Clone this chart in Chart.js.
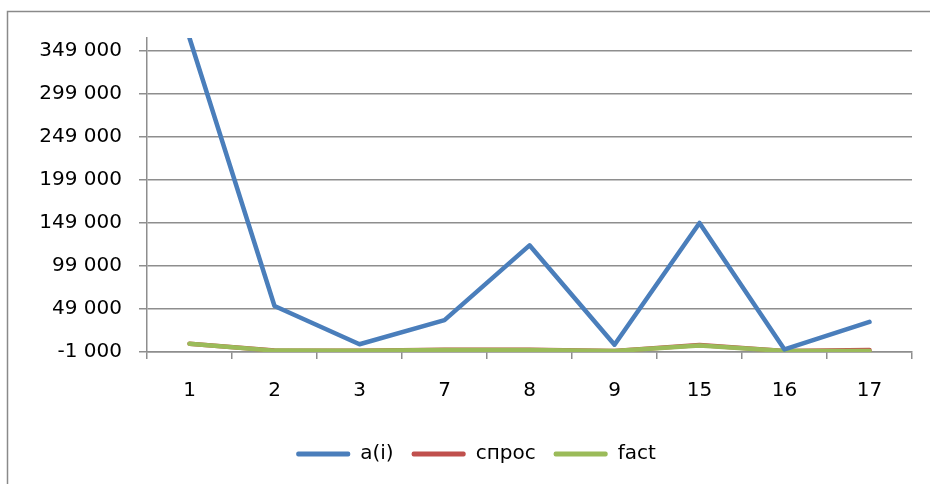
<!DOCTYPE html>
<html>
<head>
<meta charset="utf-8">
<script src="https://cdn.jsdelivr.net/npm/chart.js@4.4.1/dist/chart.umd.min.js"></script>
<style>
html,body{margin:0;padding:0;background:#fff;}
#wrap{width:930px;height:484px;position:relative;}
</style>
</head>
<body>
<div id="wrap"><canvas id="c" width="930" height="484"></canvas></div>
<script>
const categories = ['1','2','3','7','8','9','15','16','17'];
const seriesA = [364000, 52500, 8000, 36000, 123000, 7500, 149000, 2000, 34000];
const seriesSpros = [8700, 800, 500, 1500, 1500, 300, 7200, 300, 1200];
const seriesFact = [8700, 600, 400, 1200, 1200, 200, 6500, 200, 300];
const yTickValues = [-1000, 49000, 99000, 149000, 199000, 249000, 299000, 349000];
const yMin = -1000, yMax = 364000;

function fmt(v){
  const neg = v < 0; let s = Math.abs(Math.round(v)).toString();
  s = s.replace(/\B(?=(\d{3})+(?!\d))/g, ' ');
  return (neg ? '-' : '') + s;
}

const borderPlugin = {
  id: 'outerBorder',
  beforeDraw(chart){
    const ctx = chart.ctx;
    ctx.save();
    ctx.strokeStyle = '#8a8a8a';
    ctx.lineWidth = 1.5;
    ctx.strokeRect(7.5, 11.5, 1000, 1000);
    ctx.restore();
  },
  afterLayout(chart){
    if (chart.legend) { chart.legend.left += 40; }
  }
};

const FONT = {family: '"DejaVu Sans", sans-serif', size: 20};

new Chart(document.getElementById('c'), {
  type: 'line',
  data: {
    labels: categories,
    datasets: [
      {label: 'a(i)', data: seriesA, borderColor: '#4A7EBB', backgroundColor: '#4A7EBB', order: 0},
      {label: 'спрос', data: seriesSpros, borderColor: '#C0504D', backgroundColor: '#C0504D', order: 2},
      {label: 'fact', data: seriesFact, borderColor: '#9BBB59', backgroundColor: '#9BBB59', order: 1}
    ]
  },
  options: {
    responsive: false,
    animation: false,
    devicePixelRatio: 1,
    layout: {padding: {left: 0, right: 18, top: 38, bottom: 10}},
    elements: {
      line: {borderWidth: 4.5, tension: 0, borderCapStyle: 'round', borderJoinStyle: 'round'},
      point: {radius: 0, hoverRadius: 0}
    },
    plugins: {
      tooltip: {enabled: false},
      legend: {
        position: 'bottom',
        labels: {
          font: FONT,
          color: '#000',
          boxWidth: 54,
          boxHeight: 5,
          padding: 18,
          useBorderRadius: true,
          borderRadius: 2,
          sort: (a, b) => a.datasetIndex - b.datasetIndex,
          generateLabels(chart){
            return Chart.defaults.plugins.legend.labels.generateLabels(chart).map(l => Object.assign(l, {lineWidth: 0, fillStyle: l.strokeStyle}));
          }
        }
      }
    },
    scales: {
      x: {
        offset: true,
        grid: {offset: true, drawOnChartArea: false, color: '#8e8e8e', lineWidth: 1.5, tickLength: 7, tickColor: '#8e8e8e'},
        border: {color: '#8e8e8e', width: 1.5},
        ticks: {font: FONT, color: '#000', padding: 20, maxRotation: 0},
        afterFit(scale){ scale.height = 74; }
      },
      y: {
        min: yMin, max: yMax,
        grid: {color: '#8e8e8e', lineWidth: 1.5, tickLength: 8, tickColor: '#8e8e8e'},
        border: {color: '#8e8e8e', width: 1.5},
        ticks: {font: FONT, color: '#000', padding: 17, callback: v => fmt(v)},
        afterBuildTicks(scale){ scale.ticks = yTickValues.map(v => ({value: v})); },
        afterFit(scale){ scale.width = 147; }
      }
    }
  },
  plugins: [borderPlugin]
});
</script>
</body>
</html>
